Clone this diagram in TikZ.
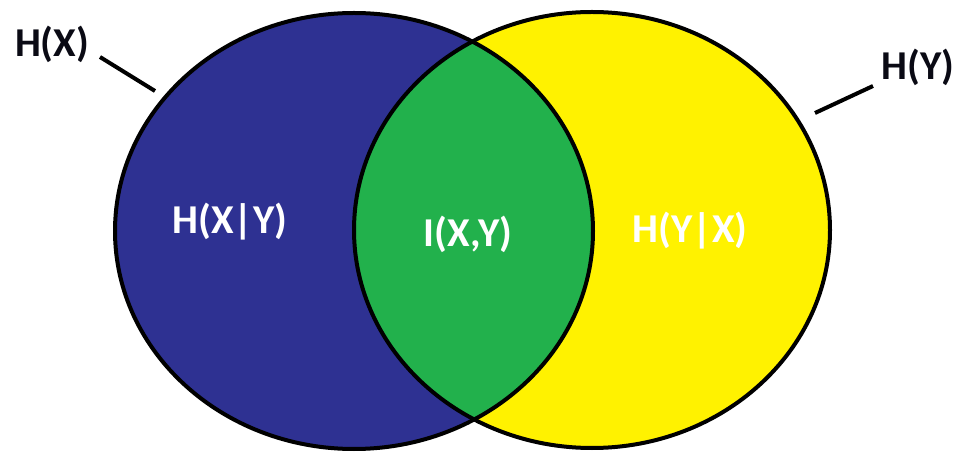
\documentclass[tikz,border=0pt]{standalone}
\usepackage{fontspec}
\setmainfont{Carlito}
\definecolor{vblue}{RGB}{46,49,146}
\definecolor{vgreen}{RGB}{34,177,76}
\definecolor{vyellow}{RGB}{255,242,0}
\definecolor{vink}{RGB}{10,10,20}
\begin{document}
\begin{tikzpicture}[x=1pt,y=-1pt,
  outline/.style={line width=4pt,draw=black},
  lab/.style={font=\fontsize{41}{46}\selectfont\bfseries,inner sep=0pt},
  tick/.style={line width=4pt,black}]
\useasboundingbox (0,0) rectangle (959,454);
% filled regions
\fill[vblue] (354,231) ellipse [x radius=239, y radius=218];
\fill[vyellow] (592,230) ellipse [x radius=238, y radius=218];
\begin{scope}
  \clip (354,231) ellipse [x radius=239, y radius=218];
  \fill[vgreen] (592,230) ellipse [x radius=238, y radius=218];
\end{scope}
% outlines
\draw[outline] (354,231) ellipse [x radius=239, y radius=218];
\draw[outline] (592,230) ellipse [x radius=238, y radius=218];
% labels
\node[lab,text=vink] (hx) at (52,44) {H(X)};
\node[lab,text=vink] (hy) at (918,67) {H(Y)};
\node[lab,text=white] (hxy) at (230,222) {H(X|Y)};
\node[lab,text=white] (ixy) at (468,234) {I(X,Y)};
\node[lab,text=white] (hyx) at (690,231) {H(Y|X)};
% ticks
\coordinate (hxa) at (100,57);
\coordinate (hxb) at (155,91);
\coordinate (hya) at (873,86);
\coordinate (hyb) at (815,113);
\draw[tick] (hxa) -- (hxb);
\draw[tick] (hya) -- (hyb);
\end{tikzpicture}
\end{document}
